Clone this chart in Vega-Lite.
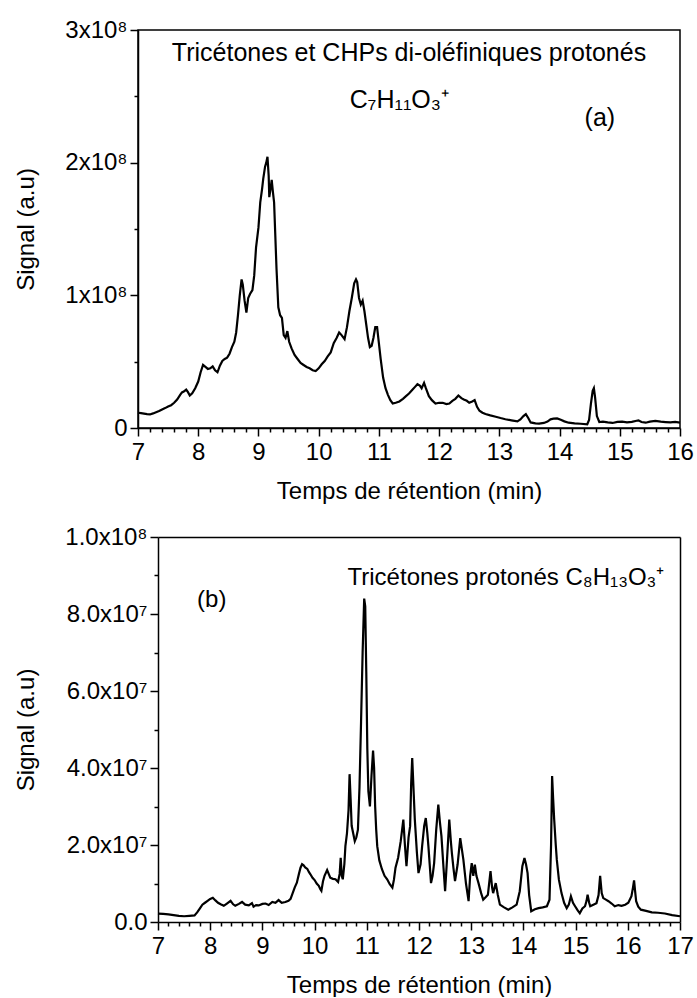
{
"$schema": "https://vega.github.io/schema/vega-lite/v6.json",
"autosize": {"type": "pad"},
"padding": {"left": 14, "top": 17, "right": 0, "bottom": 0},
"config": {
  "font": "Liberation Sans",
  "view": {"stroke": "black", "strokeWidth": 1.5},
  "axis": {"labelFontSize": 24, "titleFontSize": 24, "titleFontWeight": "normal", "labelColor": "black", "titleColor": "black", "domainColor": "black", "tickColor": "black", "domainWidth": 1.5, "tickWidth": 1.5, "grid": false, "labelFlush": false, "labelOverlap": false, "labelBound": false, "tickSize": 8, "labelFont": "Liberation Sans", "titleFont": "Liberation Sans"},
  "text": {"font": "Liberation Sans", "fontSize": 24, "color": "black"}
},
"datasets": {
  "a": [
    {"time":7.00,"signal":0.115e8},{"time":7.05,"signal":0.112e8},{"time":7.10,"signal":0.108e8},{"time":7.15,"signal":0.104e8},{"time":7.20,"signal":0.102e8},{"time":7.25,"signal":0.110e8},{"time":7.30,"signal":0.119e8},{"time":7.35,"signal":0.128e8},{"time":7.40,"signal":0.140e8},{"time":7.45,"signal":0.150e8},{"time":7.50,"signal":0.162e8},{"time":7.55,"signal":0.172e8},{"time":7.60,"signal":0.190e8},{"time":7.65,"signal":0.215e8},{"time":7.70,"signal":0.250e8},{"time":7.73,"signal":0.268e8},{"time":7.76,"signal":0.275e8},{"time":7.80,"signal":0.290e8},{"time":7.83,"signal":0.270e8},{"time":7.86,"signal":0.245e8},{"time":7.90,"signal":0.262e8},{"time":7.95,"signal":0.300e8},{"time":8.00,"signal":0.350e8},{"time":8.04,"signal":0.420e8},{"time":8.08,"signal":0.475e8},{"time":8.12,"signal":0.460e8},{"time":8.16,"signal":0.445e8},{"time":8.20,"signal":0.450e8},{"time":8.24,"signal":0.465e8},{"time":8.28,"signal":0.435e8},{"time":8.32,"signal":0.420e8},{"time":8.36,"signal":0.470e8},{"time":8.40,"signal":0.505e8},{"time":8.44,"signal":0.520e8},{"time":8.48,"signal":0.530e8},{"time":8.52,"signal":0.560e8},{"time":8.56,"signal":0.610e8},{"time":8.60,"signal":0.650e8},{"time":8.63,"signal":0.720e8},{"time":8.66,"signal":0.850e8},{"time":8.69,"signal":1.000e8},{"time":8.72,"signal":1.120e8},{"time":8.74,"signal":1.080e8},{"time":8.77,"signal":0.960e8},{"time":8.80,"signal":0.870e8},{"time":8.83,"signal":0.980e8},{"time":8.86,"signal":1.010e8},{"time":8.90,"signal":1.040e8},{"time":8.93,"signal":1.150e8},{"time":8.96,"signal":1.360e8},{"time":9.00,"signal":1.510e8},{"time":9.03,"signal":1.700e8},{"time":9.06,"signal":1.800e8},{"time":9.08,"signal":1.880e8},{"time":9.11,"signal":1.970e8},{"time":9.13,"signal":2.000e8},{"time":9.15,"signal":2.045e8},{"time":9.17,"signal":1.900e8},{"time":9.18,"signal":1.740e8},{"time":9.20,"signal":1.800e8},{"time":9.22,"signal":1.870e8},{"time":9.24,"signal":1.780e8},{"time":9.26,"signal":1.700e8},{"time":9.28,"signal":1.450e8},{"time":9.30,"signal":1.200e8},{"time":9.33,"signal":0.910e8},{"time":9.36,"signal":0.850e8},{"time":9.39,"signal":0.830e8},{"time":9.42,"signal":0.700e8},{"time":9.45,"signal":0.680e8},{"time":9.48,"signal":0.730e8},{"time":9.51,"signal":0.650e8},{"time":9.55,"signal":0.600e8},{"time":9.60,"signal":0.550e8},{"time":9.65,"signal":0.520e8},{"time":9.70,"signal":0.490e8},{"time":9.75,"signal":0.475e8},{"time":9.80,"signal":0.460e8},{"time":9.85,"signal":0.450e8},{"time":9.90,"signal":0.435e8},{"time":9.95,"signal":0.430e8},{"time":10.00,"signal":0.450e8},{"time":10.05,"signal":0.480e8},{"time":10.10,"signal":0.505e8},{"time":10.15,"signal":0.540e8},{"time":10.20,"signal":0.570e8},{"time":10.25,"signal":0.640e8},{"time":10.30,"signal":0.680e8},{"time":10.34,"signal":0.720e8},{"time":10.38,"signal":0.700e8},{"time":10.43,"signal":0.670e8},{"time":10.47,"signal":0.760e8},{"time":10.51,"signal":0.880e8},{"time":10.55,"signal":0.980e8},{"time":10.59,"signal":1.090e8},{"time":10.62,"signal":1.120e8},{"time":10.64,"signal":1.100e8},{"time":10.67,"signal":0.980e8},{"time":10.70,"signal":0.930e8},{"time":10.73,"signal":0.960e8},{"time":10.76,"signal":0.880e8},{"time":10.79,"signal":0.780e8},{"time":10.82,"signal":0.680e8},{"time":10.85,"signal":0.610e8},{"time":10.88,"signal":0.620e8},{"time":10.91,"signal":0.680e8},{"time":10.94,"signal":0.760e8},{"time":10.97,"signal":0.760e8},{"time":11.00,"signal":0.640e8},{"time":11.03,"signal":0.520e8},{"time":11.07,"signal":0.380e8},{"time":11.11,"signal":0.300e8},{"time":11.15,"signal":0.250e8},{"time":11.19,"signal":0.210e8},{"time":11.23,"signal":0.185e8},{"time":11.28,"signal":0.190e8},{"time":11.34,"signal":0.200e8},{"time":11.40,"signal":0.220e8},{"time":11.45,"signal":0.240e8},{"time":11.50,"signal":0.260e8},{"time":11.56,"signal":0.290e8},{"time":11.60,"signal":0.310e8},{"time":11.64,"signal":0.330e8},{"time":11.68,"signal":0.320e8},{"time":11.71,"signal":0.300e8},{"time":11.75,"signal":0.340e8},{"time":11.78,"signal":0.300e8},{"time":11.83,"signal":0.240e8},{"time":11.88,"signal":0.210e8},{"time":11.94,"signal":0.185e8},{"time":12.00,"signal":0.190e8},{"time":12.06,"signal":0.190e8},{"time":12.12,"signal":0.180e8},{"time":12.17,"signal":0.185e8},{"time":12.22,"signal":0.205e8},{"time":12.27,"signal":0.220e8},{"time":12.32,"signal":0.245e8},{"time":12.37,"signal":0.225e8},{"time":12.41,"signal":0.215e8},{"time":12.46,"signal":0.205e8},{"time":12.50,"signal":0.190e8},{"time":12.55,"signal":0.200e8},{"time":12.59,"signal":0.210e8},{"time":12.63,"signal":0.160e8},{"time":12.67,"signal":0.130e8},{"time":12.72,"signal":0.115e8},{"time":12.77,"signal":0.105e8},{"time":12.85,"signal":0.095e8},{"time":12.94,"signal":0.085e8},{"time":13.02,"signal":0.075e8},{"time":13.10,"signal":0.066e8},{"time":13.20,"signal":0.058e8},{"time":13.30,"signal":0.050e8},{"time":13.35,"signal":0.065e8},{"time":13.40,"signal":0.090e8},{"time":13.44,"signal":0.105e8},{"time":13.48,"signal":0.075e8},{"time":13.52,"signal":0.042e8},{"time":13.60,"signal":0.035e8},{"time":13.66,"signal":0.033e8},{"time":13.74,"signal":0.038e8},{"time":13.80,"signal":0.048e8},{"time":13.85,"signal":0.065e8},{"time":13.90,"signal":0.070e8},{"time":13.96,"signal":0.072e8},{"time":14.02,"signal":0.062e8},{"time":14.08,"signal":0.050e8},{"time":14.15,"signal":0.040e8},{"time":14.25,"signal":0.035e8},{"time":14.35,"signal":0.032e8},{"time":14.46,"signal":0.028e8},{"time":14.49,"signal":0.060e8},{"time":14.52,"signal":0.180e8},{"time":14.55,"signal":0.280e8},{"time":14.57,"signal":0.300e8},{"time":14.59,"signal":0.230e8},{"time":14.62,"signal":0.090e8},{"time":14.66,"signal":0.045e8},{"time":14.72,"signal":0.048e8},{"time":14.80,"signal":0.042e8},{"time":14.88,"signal":0.038e8},{"time":14.96,"signal":0.046e8},{"time":15.04,"signal":0.048e8},{"time":15.12,"signal":0.042e8},{"time":15.20,"signal":0.046e8},{"time":15.28,"signal":0.055e8},{"time":15.31,"signal":0.058e8},{"time":15.36,"signal":0.045e8},{"time":15.43,"signal":0.040e8},{"time":15.50,"signal":0.048e8},{"time":15.59,"signal":0.053e8},{"time":15.68,"signal":0.048e8},{"time":15.76,"signal":0.045e8},{"time":15.84,"signal":0.042e8},{"time":15.92,"signal":0.046e8},{"time":16.00,"signal":0.040e8}
  ],
  "b": [
    {"time":7.00,"signal":0.22e7},{"time":7.10,"signal":0.21e7},{"time":7.20,"signal":0.20e7},{"time":7.30,"signal":0.18e7},{"time":7.40,"signal":0.16e7},{"time":7.50,"signal":0.15e7},{"time":7.60,"signal":0.16e7},{"time":7.70,"signal":0.17e7},{"time":7.75,"signal":0.25e7},{"time":7.80,"signal":0.35e7},{"time":7.85,"signal":0.45e7},{"time":7.90,"signal":0.50e7},{"time":7.95,"signal":0.55e7},{"time":8.00,"signal":0.60e7},{"time":8.05,"signal":0.63e7},{"time":8.10,"signal":0.56e7},{"time":8.15,"signal":0.50e7},{"time":8.20,"signal":0.46e7},{"time":8.26,"signal":0.42e7},{"time":8.32,"signal":0.48e7},{"time":8.39,"signal":0.55e7},{"time":8.44,"signal":0.46e7},{"time":8.48,"signal":0.42e7},{"time":8.55,"signal":0.47e7},{"time":8.61,"signal":0.52e7},{"time":8.67,"signal":0.45e7},{"time":8.74,"signal":0.43e7},{"time":8.80,"signal":0.49e7},{"time":8.83,"signal":0.40e7},{"time":8.88,"signal":0.44e7},{"time":8.93,"signal":0.43e7},{"time":9.00,"signal":0.47e7},{"time":9.06,"signal":0.48e7},{"time":9.12,"signal":0.44e7},{"time":9.19,"signal":0.52e7},{"time":9.25,"signal":0.50e7},{"time":9.31,"signal":0.57e7},{"time":9.37,"signal":0.50e7},{"time":9.44,"signal":0.52e7},{"time":9.50,"signal":0.55e7},{"time":9.54,"signal":0.60e7},{"time":9.58,"signal":0.75e7},{"time":9.62,"signal":0.90e7},{"time":9.66,"signal":1.02e7},{"time":9.70,"signal":1.25e7},{"time":9.73,"signal":1.41e7},{"time":9.76,"signal":1.50e7},{"time":9.79,"signal":1.47e7},{"time":9.82,"signal":1.42e7},{"time":9.86,"signal":1.38e7},{"time":9.89,"signal":1.30e7},{"time":9.92,"signal":1.24e7},{"time":9.96,"signal":1.15e7},{"time":10.00,"signal":1.09e7},{"time":10.04,"signal":1.00e7},{"time":10.08,"signal":0.94e7},{"time":10.11,"signal":0.85e7},{"time":10.13,"signal":0.81e7},{"time":10.16,"signal":1.05e7},{"time":10.19,"signal":1.20e7},{"time":10.24,"signal":1.35e7},{"time":10.27,"signal":1.25e7},{"time":10.30,"signal":1.15e7},{"time":10.35,"signal":1.12e7},{"time":10.40,"signal":1.11e7},{"time":10.45,"signal":1.04e7},{"time":10.48,"signal":1.25e7},{"time":10.50,"signal":1.67e7},{"time":10.52,"signal":1.20e7},{"time":10.54,"signal":1.11e7},{"time":10.57,"signal":1.50e7},{"time":10.59,"signal":1.97e7},{"time":10.62,"signal":2.30e7},{"time":10.65,"signal":2.90e7},{"time":10.67,"signal":3.84e7},{"time":10.69,"signal":3.20e7},{"time":10.71,"signal":2.50e7},{"time":10.74,"signal":2.30e7},{"time":10.77,"signal":2.10e7},{"time":10.80,"signal":2.20e7},{"time":10.83,"signal":2.40e7},{"time":10.86,"signal":3.50e7},{"time":10.89,"signal":5.20e7},{"time":10.92,"signal":7.00e7},{"time":10.95,"signal":8.40e7},{"time":10.97,"signal":8.20e7},{"time":10.99,"signal":6.50e7},{"time":11.01,"signal":4.50e7},{"time":11.03,"signal":3.40e7},{"time":11.06,"signal":3.00e7},{"time":11.09,"signal":3.80e7},{"time":11.12,"signal":4.45e7},{"time":11.14,"signal":4.00e7},{"time":11.16,"signal":3.00e7},{"time":11.18,"signal":2.40e7},{"time":11.20,"signal":1.97e7},{"time":11.24,"signal":1.60e7},{"time":11.29,"signal":1.37e7},{"time":11.34,"signal":1.20e7},{"time":11.39,"signal":1.11e7},{"time":11.44,"signal":0.98e7},{"time":11.49,"signal":0.89e7},{"time":11.52,"signal":1.10e7},{"time":11.55,"signal":1.41e7},{"time":11.60,"signal":1.67e7},{"time":11.65,"signal":2.10e7},{"time":11.70,"signal":2.66e7},{"time":11.73,"signal":2.00e7},{"time":11.76,"signal":1.45e7},{"time":11.80,"signal":2.20e7},{"time":11.83,"signal":2.49e7},{"time":11.85,"signal":3.60e7},{"time":11.87,"signal":4.26e7},{"time":11.90,"signal":3.30e7},{"time":11.92,"signal":2.66e7},{"time":11.96,"signal":1.80e7},{"time":11.99,"signal":1.27e7},{"time":12.03,"signal":1.50e7},{"time":12.06,"signal":1.97e7},{"time":12.10,"signal":2.50e7},{"time":12.13,"signal":2.70e7},{"time":12.16,"signal":2.30e7},{"time":12.18,"signal":1.97e7},{"time":12.21,"signal":1.40e7},{"time":12.23,"signal":1.01e7},{"time":12.26,"signal":1.20e7},{"time":12.29,"signal":1.53e7},{"time":12.33,"signal":2.40e7},{"time":12.37,"signal":3.05e7},{"time":12.40,"signal":2.60e7},{"time":12.43,"signal":2.23e7},{"time":12.47,"signal":1.40e7},{"time":12.50,"signal":0.80e7},{"time":12.54,"signal":1.70e7},{"time":12.58,"signal":2.66e7},{"time":12.61,"signal":2.10e7},{"time":12.63,"signal":1.79e7},{"time":12.66,"signal":1.40e7},{"time":12.69,"signal":1.06e7},{"time":12.74,"signal":1.50e7},{"time":12.79,"signal":2.18e7},{"time":12.82,"signal":1.90e7},{"time":12.85,"signal":1.62e7},{"time":12.90,"signal":1.00e7},{"time":12.95,"signal":0.54e7},{"time":12.98,"signal":1.20e7},{"time":13.01,"signal":1.53e7},{"time":13.04,"signal":1.20e7},{"time":13.07,"signal":1.49e7},{"time":13.10,"signal":1.20e7},{"time":13.14,"signal":1.01e7},{"time":13.19,"signal":0.75e7},{"time":13.23,"signal":0.58e7},{"time":13.28,"signal":0.65e7},{"time":13.32,"signal":0.71e7},{"time":13.37,"signal":1.32e7},{"time":13.40,"signal":0.90e7},{"time":13.42,"signal":0.75e7},{"time":13.47,"signal":1.01e7},{"time":13.51,"signal":0.70e7},{"time":13.55,"signal":0.45e7},{"time":13.63,"signal":0.38e7},{"time":13.71,"signal":0.32e7},{"time":13.79,"signal":0.38e7},{"time":13.87,"signal":0.45e7},{"time":13.93,"signal":0.80e7},{"time":13.98,"signal":1.45e7},{"time":14.02,"signal":1.66e7},{"time":14.05,"signal":1.50e7},{"time":14.08,"signal":1.27e7},{"time":14.11,"signal":0.70e7},{"time":14.15,"signal":0.28e7},{"time":14.22,"signal":0.33e7},{"time":14.29,"signal":0.36e7},{"time":14.37,"signal":0.38e7},{"time":14.45,"signal":0.41e7},{"time":14.50,"signal":0.58e7},{"time":14.53,"signal":2.00e7},{"time":14.55,"signal":3.79e7},{"time":14.57,"signal":3.20e7},{"time":14.59,"signal":2.66e7},{"time":14.62,"signal":2.00e7},{"time":14.64,"signal":1.62e7},{"time":14.68,"signal":1.10e7},{"time":14.73,"signal":0.75e7},{"time":14.78,"signal":0.50e7},{"time":14.83,"signal":0.36e7},{"time":14.87,"signal":0.45e7},{"time":14.91,"signal":0.67e7},{"time":14.95,"signal":0.50e7},{"time":14.99,"signal":0.41e7},{"time":15.04,"signal":0.30e7},{"time":15.08,"signal":0.23e7},{"time":15.13,"signal":0.35e7},{"time":15.18,"signal":0.41e7},{"time":15.21,"signal":0.55e7},{"time":15.23,"signal":0.71e7},{"time":15.26,"signal":0.50e7},{"time":15.28,"signal":0.41e7},{"time":15.34,"signal":0.45e7},{"time":15.40,"signal":0.49e7},{"time":15.44,"signal":0.70e7},{"time":15.47,"signal":1.20e7},{"time":15.50,"signal":0.75e7},{"time":15.53,"signal":0.62e7},{"time":15.58,"signal":0.58e7},{"time":15.63,"signal":0.54e7},{"time":15.69,"signal":0.48e7},{"time":15.75,"signal":0.41e7},{"time":15.82,"signal":0.44e7},{"time":15.88,"signal":0.42e7},{"time":15.95,"signal":0.45e7},{"time":16.01,"signal":0.50e7},{"time":16.07,"signal":0.67e7},{"time":16.10,"signal":0.90e7},{"time":16.12,"signal":1.08e7},{"time":16.14,"signal":0.80e7},{"time":16.16,"signal":0.54e7},{"time":16.20,"signal":0.40e7},{"time":16.25,"signal":0.32e7},{"time":16.35,"signal":0.29e7},{"time":16.46,"signal":0.25e7},{"time":16.58,"signal":0.24e7},{"time":16.71,"signal":0.22e7},{"time":16.85,"signal":0.18e7},{"time":17.00,"signal":0.15e7}
  ]
},
"vconcat": [
  {
    "width": 542, "height": 398,
    "resolve": {"axis": {"x": "independent", "y": "independent"}},
    "layer": [
      {
        "data": {"name": "a"},
        "mark": {"type": "line", "color": "black", "strokeWidth": 2.2},
        "encoding": {
          "x": {"field": "time", "type": "quantitative", "scale": {"domain": [7, 16], "nice": false, "zero": false},
                "axis": {"values": [7,8,9,10,11,12,13,14,15,16], "title": "Temps de rétention (min)", "labelPadding": 4, "titlePadding": 15}},
          "y": {"field": "signal", "type": "quantitative", "scale": {"domain": [0, 300000000], "nice": false},
                "axis": {"values": [0, 100000000, 200000000, 300000000], "labelExpr": "datum.value == 0 ? '0' : format(datum.value/1e8, 'd') + 'x10⁸'", "title": "Signal (a.u)", "labelPadding": 3, "titlePadding": 26}}
        }
      },
      {
        "data": {"values": [{"time": 7, "signal": 0}]},
        "mark": {"type": "point", "opacity": 0},
        "encoding": {
          "x": {"field": "time", "type": "quantitative", "scale": {"domain": [7, 16], "nice": false, "zero": false},
                "axis": {"orient": "bottom", "values": [7.2,7.4,7.6,7.8,8.2,8.4,8.6,8.8,9.2,9.4,9.6,9.8,10.2,10.4,10.6,10.8,11.2,11.4,11.6,11.8,12.2,12.4,12.6,12.8,13.2,13.4,13.6,13.8,14.2,14.4,14.6,14.8,15.2,15.4,15.6,15.8], "labels": false, "domain": false, "tickSize": 4, "title": null}},
          "y": {"field": "signal", "type": "quantitative", "scale": {"domain": [0, 300000000], "nice": false},
                "axis": {"orient": "left", "values": [50000000, 150000000, 250000000], "labels": false, "domain": false, "tickSize": 4, "title": null}}
        }
      },
      {
        "data": {"values": [
          {"time": 11.5, "signal": 283000000, "label": "Tricétones et CHPs di-oléfiniques protonés"},
          {"time": 11.34, "signal": 247000000, "label": "C₇H₁₁O₃⁺"},
          {"time": 14.67, "signal": 234000000, "label": "(a)"}
        ]},
        "mark": {"type": "text", "align": "center", "baseline": "middle", "fontSize": 25},
        "encoding": {
          "x": {"field": "time", "type": "quantitative", "scale": {"domain": [7, 16], "nice": false, "zero": false}, "axis": null},
          "y": {"field": "signal", "type": "quantitative", "scale": {"domain": [0, 300000000], "nice": false}, "axis": null},
          "text": {"field": "label"}
        }
      }
    ]
  },
  {
    "width": 542, "height": 385,
    "view": {"stroke": null},
    "resolve": {"axis": {"x": "independent", "y": "independent"}},
    "layer": [
      {
        "data": {"name": "b"},
        "mark": {"type": "line", "color": "black", "strokeWidth": 2.2},
        "encoding": {
          "x": {"field": "time", "type": "quantitative", "scale": {"domain": [7, 17], "range": [20, 542], "nice": false, "zero": false},
                "axis": {"values": [7,8,9,10,11,12,13,14,15,16,17], "title": "Temps de rétention (min)", "labelPadding": 4, "titlePadding": 15}},
          "y": {"field": "signal", "type": "quantitative", "scale": {"domain": [0, 100000000], "nice": false},
                "axis": {"offset": -20, "values": [0, 20000000, 40000000, 60000000, 80000000, 100000000], "labelExpr": "datum.value == 0 ? '0.0' : (datum.value >= 1e8 ? '1.0x10⁸' : format(datum.value/1e7, '.1f') + 'x10⁷')", "title": "Signal (a.u)", "labelPadding": 3, "titlePadding": 26}}
        }
      },
      {
        "data": {"values": [{"time": 7, "signal": 0}]},
        "mark": {"type": "point", "opacity": 0},
        "encoding": {
          "x": {"field": "time", "type": "quantitative", "scale": {"domain": [7, 17], "range": [20, 542], "nice": false, "zero": false},
                "axis": {"orient": "bottom", "values": [7.2,7.4,7.6,7.8,8.2,8.4,8.6,8.8,9.2,9.4,9.6,9.8,10.2,10.4,10.6,10.8,11.2,11.4,11.6,11.8,12.2,12.4,12.6,12.8,13.2,13.4,13.6,13.8,14.2,14.4,14.6,14.8,15.2,15.4,15.6,15.8,16.2,16.4,16.6,16.8], "labels": false, "domain": false, "tickSize": 4, "title": null}},
          "y": {"field": "signal", "type": "quantitative", "scale": {"domain": [0, 100000000], "nice": false},
                "axis": {"orient": "left", "offset": -20, "values": [10000000, 30000000, 50000000, 70000000, 90000000], "labels": false, "domain": false, "tickSize": 4, "title": null}}
        }
      },
      {
        "data": {"values": [{"time": 7, "signal": 0}]},
        "mark": {"type": "point", "opacity": 0},
        "encoding": {
          "x": {"field": "time", "type": "quantitative", "scale": {"domain": [7, 17], "range": [20, 542], "nice": false, "zero": false},
                "axis": {"orient": "top", "ticks": false, "labels": false, "domain": true, "title": null}},
          "y": {"field": "signal", "type": "quantitative", "scale": {"domain": [0, 100000000], "nice": false},
                "axis": {"orient": "right", "ticks": false, "labels": false, "domain": true, "title": null}}
        }
      },
      {
        "data": {"values": [
          {"time": 16.7, "signal": 89300000, "label": "Tricétones protonés C₈H₁₃O₃⁺"}
        ]},
        "mark": {"type": "text", "align": "right", "baseline": "middle", "fontSize": 24},
        "encoding": {
          "x": {"field": "time", "type": "quantitative", "scale": {"domain": [7, 17], "range": [20, 542], "nice": false, "zero": false}, "axis": null},
          "y": {"field": "signal", "type": "quantitative", "scale": {"domain": [0, 100000000], "nice": false}, "axis": null},
          "text": {"field": "label"}
        }
      },
      {
        "data": {"values": [
          {"time": 8.03, "signal": 83600000, "label": "(b)"}
        ]},
        "mark": {"type": "text", "align": "center", "baseline": "middle", "fontSize": 24},
        "encoding": {
          "x": {"field": "time", "type": "quantitative", "scale": {"domain": [7, 17], "range": [20, 542], "nice": false, "zero": false}, "axis": null},
          "y": {"field": "signal", "type": "quantitative", "scale": {"domain": [0, 100000000], "nice": false}, "axis": null},
          "text": {"field": "label"}
        }
      }
    ]
  }
],
"spacing": 21
}
